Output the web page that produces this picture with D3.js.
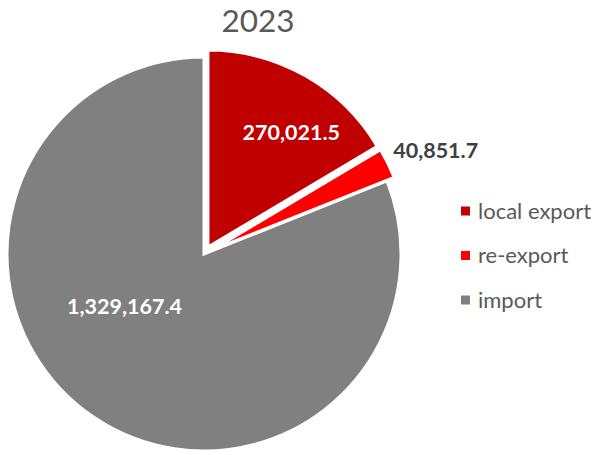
<!DOCTYPE html>
<html>
<head>
<meta charset="utf-8">
<script src="https://cdn.jsdelivr.net/npm/d3@7"></script>
<style>
  html, body { margin: 0; padding: 0; background: #ffffff; }
  svg { display: block; }
</style>
</head>
<body>
<svg id="chart" width="597" height="455"></svg>
<script>
// ---- data ----
const title = "2023";
const categories = ["local export", "re-export", "import"];
const values = [270021.5, 40851.7, 1329167.4];
const colors = ["#C00000", "#FF0000", "#808080"];
const valueLabels = ["270,021.5", "40,851.7", "1,329,167.4"];

// ---- layout (styles/positions) ----
const W = 597, H = 455;
const cx = 204, cy = 254, R = 197;
const explode = [8, 8, 0];
// label placement in polar coords: [angle (deg, clockwise from top), distance]
const labelPolar = [[35.6, 150], [65.8, 254], [236.8, 95]];
const labelColor = ["#ffffff", "#404040", "#ffffff"];
const font = "Lato, 'Open Sans', sans-serif";

const svg = d3.select("#chart");

svg.append("text")
  .attr("x", 258).attr("y", 32)
  .attr("text-anchor", "middle")
  .attr("font-family", font)
  .attr("font-size", 31.5)
  .attr("fill", "#595959")
  .text(title);

const data = categories.map((c, i) => ({ name: c, value: values[i], i }));
const pie = d3.pie().value(d => d.value).sort(null).startAngle(0).endAngle(2 * Math.PI);
const arcs = pie(data);
const arc = d3.arc().innerRadius(0).outerRadius(R);

const g = svg.append("g").attr("transform", `translate(${cx},${cy})`);

g.selectAll("path.slice")
  .data(arcs)
  .join("path")
  .attr("class", "slice")
  .attr("d", arc)
  .attr("fill", d => colors[d.data.i])
  .attr("stroke", "#ffffff")
  .attr("stroke-width", 3)
  .attr("stroke-linejoin", "miter")
  .attr("transform", d => {
    const a = (d.startAngle + d.endAngle) / 2;
    const e = explode[d.data.i];
    return `translate(${e * Math.sin(a)},${-e * Math.cos(a)})`;
  });

g.selectAll("text.lbl")
  .data(arcs)
  .join("text")
  .attr("class", "lbl")
  .attr("x", d => { const p = labelPolar[d.data.i]; return p[1] * Math.sin(p[0] * Math.PI / 180); })
  .attr("y", d => { const p = labelPolar[d.data.i]; return -p[1] * Math.cos(p[0] * Math.PI / 180); })
  .attr("dy", "0.36em")
  .attr("text-anchor", "middle")
  .attr("font-family", font)
  .attr("font-weight", "bold")
  .attr("font-size", 21.5)
  .attr("fill", d => labelColor[d.data.i])
  .text(d => valueLabels[d.data.i]);

// legend
const legend = svg.append("g").attr("transform", "translate(461,211)");
const item = legend.selectAll("g").data(categories).join("g")
  .attr("transform", (d, i) => `translate(0,${i * 44.5})`);
item.append("rect")
  .attr("x", 0).attr("y", -4.5).attr("width", 9).attr("height", 9)
  .attr("fill", (d, i) => colors[i]);
item.append("text")
  .attr("x", 17).attr("y", 0).attr("dy", "0.35em")
  .attr("font-family", font)
  .attr("font-size", 22)
  .attr("fill", "#595959")
  .text(d => d);
</script>
</body>
</html>
